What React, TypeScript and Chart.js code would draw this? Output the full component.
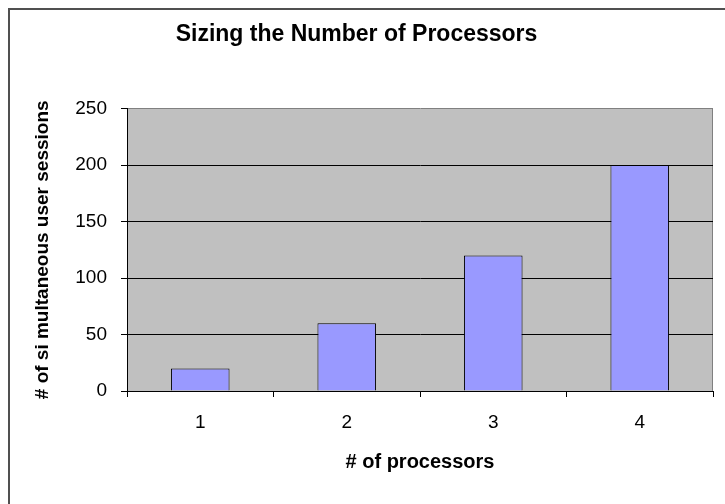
import React, { useEffect, useRef } from "react";
import { Chart, registerables } from "chart.js";

Chart.register(...registerables);

const categories = ["1", "2", "3", "4"];
const sessions = [20, 60, 120, 200];
const yTicks = [0, 50, 100, 150, 200, 250];

const chartTitle = "Sizing the Number of Processors";
const xTitle = "# of processors";
const yTitle = "# of si multaneous user sessions";

const FONT = "'Liberation Sans', Arial, sans-serif";

const decorPlugin = {
  id: "decor",
  beforeDraw(chart: any) {
    const { ctx, chartArea, width, height } = chart;
    ctx.save();
    ctx.fillStyle = "#ffffff";
    ctx.fillRect(0, 0, width, height);
    // outer frame (left + top)
    ctx.fillStyle = "#505050";
    ctx.fillRect(8, 8, width - 8, 2);
    ctx.fillRect(8, 8, 2, height - 8);
    // plot background
    ctx.fillStyle = "#c0c0c0";
    ctx.fillRect(chartArea.left, chartArea.top, chartArea.right - chartArea.left, chartArea.bottom - chartArea.top);
    // right border of plot
    ctx.strokeStyle = "#808080";
    ctx.lineWidth = 1;
    ctx.beginPath();
    ctx.moveTo(Math.round(chartArea.right) - 0.5, chartArea.top);
    ctx.lineTo(Math.round(chartArea.right) - 0.5, chartArea.bottom);
    ctx.stroke();
    ctx.restore();
  },
};

export default function App() {
  const ref = useRef<HTMLCanvasElement | null>(null);

  useEffect(() => {
    if (!ref.current) return;
    const chart = new Chart(ref.current, {
      type: "bar",
      data: {
        labels: categories,
        datasets: [
          {
            data: sessions,
            backgroundColor: "#9999ff",
            borderColor: "#000000",
            borderWidth: 1,
            categoryPercentage: 1,
            barPercentage: 0.4,
          },
        ],
      },
      options: {
        responsive: false,
        animation: false,
        layout: { padding: { left: 0, right: 12, top: 0, bottom: 0 } },
        plugins: {
          legend: { display: false },
          tooltip: { enabled: false },
          title: {
            display: true,
            text: chartTitle,
            color: "#000000",
            font: { family: FONT, size: 23, weight: "bold" },
            padding: { top: 21, bottom: 60 },
          },
        },
        scales: {
          x: {
            afterFit(scale: any) {
              scale.height = 113;
            },
            grid: {
              offset: true,
              drawOnChartArea: false,
              color: "#000000",
              tickColor: "#000000",
              tickLength: 6,
            },
            border: { color: "#000000", width: 1 },
            ticks: {
              color: "#000000",
              padding: 14,
              font: { family: FONT, size: 19 },
            },
            title: {
              display: true,
              text: xTitle,
              color: "#000000",
              font: { family: FONT, size: 20, weight: "bold" },
              padding: { top: 0, bottom: 30 },
            },
          },
          y: {
            min: 0,
            max: 250,
            afterFit(scale: any) {
              scale.width = 127;
            },
            afterBuildTicks(scale: any) {
              scale.ticks = yTicks.map((v) => ({ value: v }));
            },
            grid: {
              color: (c: any) => (c.tick && c.tick.value === 250 ? "#808080" : "#000000"),
              tickColor: "#000000",
              tickLength: 6,
              lineWidth: 1,
            },
            border: { color: "#000000", width: 1 },
            ticks: {
              color: "#000000",
              padding: 14,
              font: { family: FONT, size: 19 },
            },
            title: {
              display: true,
              text: yTitle,
              color: "#000000",
              font: { family: FONT, size: 19, weight: "bold" },
              padding: { top: 31, bottom: 0 },
            },
          },
        },
      },
      plugins: [decorPlugin],
    });
    return () => chart.destroy();
  }, []);

  return (
    <div style={{ position: "fixed", left: 0, top: 0, width: 725, height: 504 }}>
      <canvas ref={ref} width={725} height={504} style={{ display: "block" }} />
    </div>
  );
}
